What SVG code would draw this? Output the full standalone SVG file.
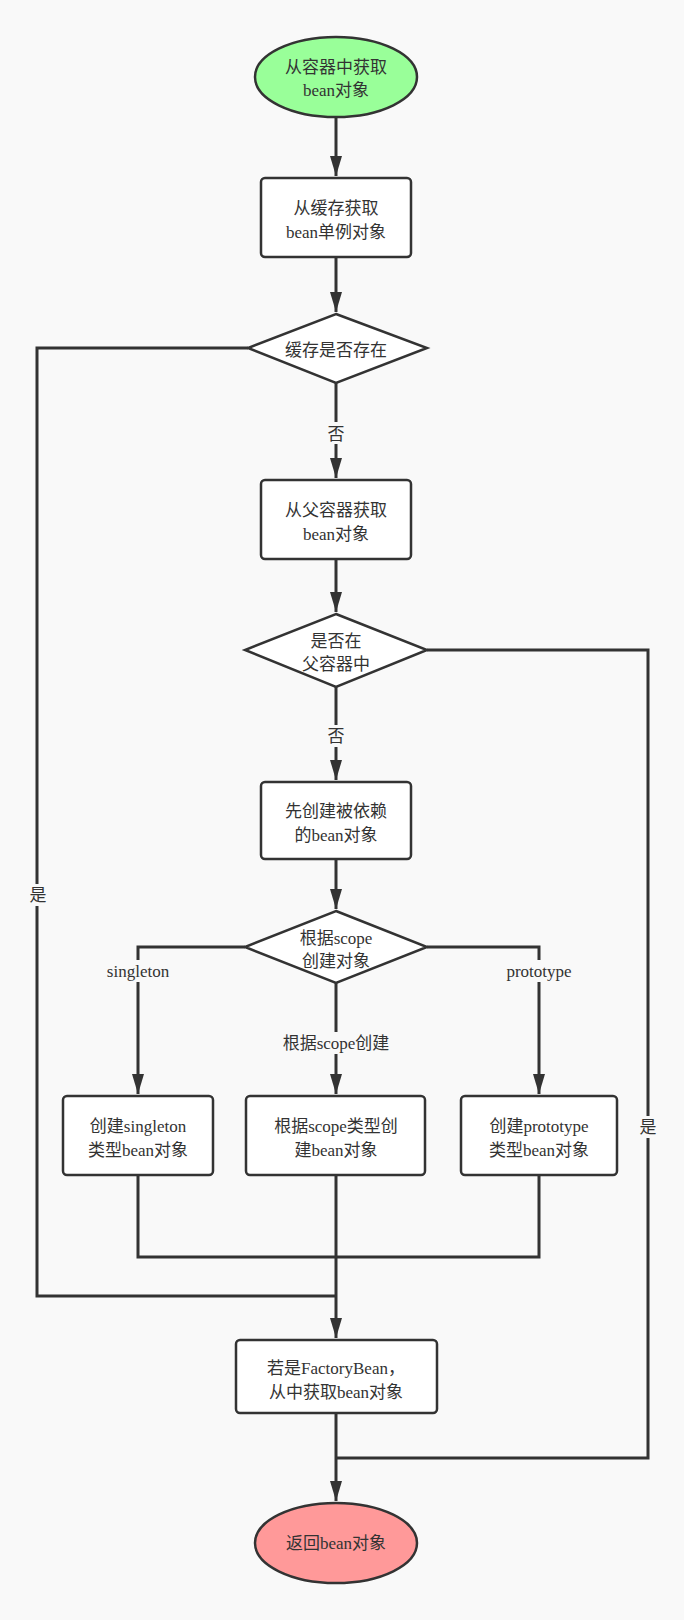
<svg xmlns="http://www.w3.org/2000/svg" width="684" height="1620" viewBox="0 0 684 1620">
<defs>
<marker id="ah" viewBox="0 0 20 12" refX="20" refY="6" markerWidth="20" markerHeight="12" markerUnits="userSpaceOnUse" orient="auto"><path d="M0,0 L20,6 L0,12 Z" fill="#333"/></marker>
<style>
.n{fill:#fff;stroke:#333;stroke-width:2.5}
.t{font-family:"Liberation Serif","Noto Sans CJK SC",serif;font-size:17px;fill:#333;text-anchor:middle}
.c{fill:none;stroke:#333;stroke-width:3}
.lb{fill:#f9f9f9}
</style>
</defs>
<rect width="684" height="1620" fill="#f9f9f9"/>
<g id="connectors">
<path class="c" d="M336,117 V176" marker-end="url(#ah)"/>
<path class="c" d="M336,257 V312" marker-end="url(#ah)"/>
<path class="c" d="M336,383 V478" marker-end="url(#ah)"/>
<path class="c" d="M336,559 V612" marker-end="url(#ah)"/>
<path class="c" d="M336,687 V780" marker-end="url(#ah)"/>
<path class="c" d="M336,859 V909" marker-end="url(#ah)"/>
<path class="c" d="M336,983 V1094" marker-end="url(#ah)"/>
<path class="c" d="M245,947 H138 V1094" marker-end="url(#ah)"/>
<path class="c" d="M427,947 H539 V1094" marker-end="url(#ah)"/>
<path class="c" d="M336,1175 V1338" marker-end="url(#ah)"/>
<path class="c" d="M138,1175 V1257 H539 V1175"/>
<path class="c" d="M248,348 H37 V1296 H336"/>
<path class="c" d="M336,1413 V1501" marker-end="url(#ah)"/>
<path class="c" d="M427,650 H648 V1458 H336"/>
<rect class="lb" x="326" y="422" width="20" height="22"/>
<text class="t" x="336" y="440">否</text>
<rect class="lb" x="326" y="725" width="20" height="22"/>
<text class="t" x="336" y="742">否</text>
<rect class="lb" x="28" y="884" width="20" height="22"/>
<text class="t" x="38" y="901">是</text>
<rect class="lb" x="638" y="1116" width="20" height="22"/>
<text class="t" x="648" y="1133">是</text>
<rect class="lb" x="100" y="960" width="76" height="22"/>
<text class="t" x="138" y="977">singleton</text>
<rect class="lb" x="498" y="960" width="82" height="22"/>
<text class="t" x="539" y="977">prototype</text>
<rect class="lb" x="270" y="1032" width="132" height="22"/>
<text class="t" x="336" y="1049">根据scope创建</text>
</g>
<g id="start"><ellipse cx="336" cy="77" rx="81" ry="40" fill="#99ff99" stroke="#333" stroke-width="2.5"/><text class="t" x="336" y="73">从容器中获取</text><text class="t" x="336" y="96">bean对象</text></g>
<g id="cache"><rect class="n" x="261" y="178" width="150" height="79" rx="4"/><text class="t" x="336" y="214">从缓存获取</text><text class="t" x="336" y="238">bean单例对象</text></g>
<g id="d1"><polygon class="n" points="336,314 427,348 336,383 248,348"/><text class="t" x="336" y="356">缓存是否存在</text></g>
<g id="parent"><rect class="n" x="261" y="480" width="150" height="79" rx="4"/><text class="t" x="336" y="516">从父容器获取</text><text class="t" x="336" y="540">bean对象</text></g>
<g id="d2"><polygon class="n" points="336,614 427,650 336,687 245,650"/><text class="t" x="336" y="647">是否在</text><text class="t" x="336" y="670">父容器中</text></g>
<g id="dep"><rect class="n" x="261" y="782" width="150" height="77" rx="4"/><text class="t" x="336" y="817">先创建被依赖</text><text class="t" x="336" y="841">的bean对象</text></g>
<g id="d3"><polygon class="n" points="336,911 427,947 336,983 245,947"/><text class="t" x="336" y="944">根据scope</text><text class="t" x="336" y="967">创建对象</text></g>
<g id="single"><rect class="n" x="63" y="1096" width="150" height="79" rx="4"/><text class="t" x="138" y="1132">创建singleton</text><text class="t" x="138" y="1156">类型bean对象</text></g>
<g id="scope"><rect class="n" x="246" y="1096" width="179" height="79" rx="4"/><text class="t" x="336" y="1132">根据scope类型创</text><text class="t" x="336" y="1156">建bean对象</text></g>
<g id="proto"><rect class="n" x="461" y="1096" width="156" height="79" rx="4"/><text class="t" x="539" y="1132">创建prototype</text><text class="t" x="539" y="1156">类型bean对象</text></g>
<g id="factory"><rect class="n" x="236" y="1340" width="201" height="73" rx="4"/><text class="t" x="336" y="1374">若是FactoryBean，</text><text class="t" x="336" y="1398">从中获取bean对象</text></g>
<g id="end"><ellipse cx="336" cy="1543" rx="81" ry="40" fill="#ff9999" stroke="#333" stroke-width="2.5"/><text class="t" x="336" y="1549">返回bean对象</text></g>
</svg>
